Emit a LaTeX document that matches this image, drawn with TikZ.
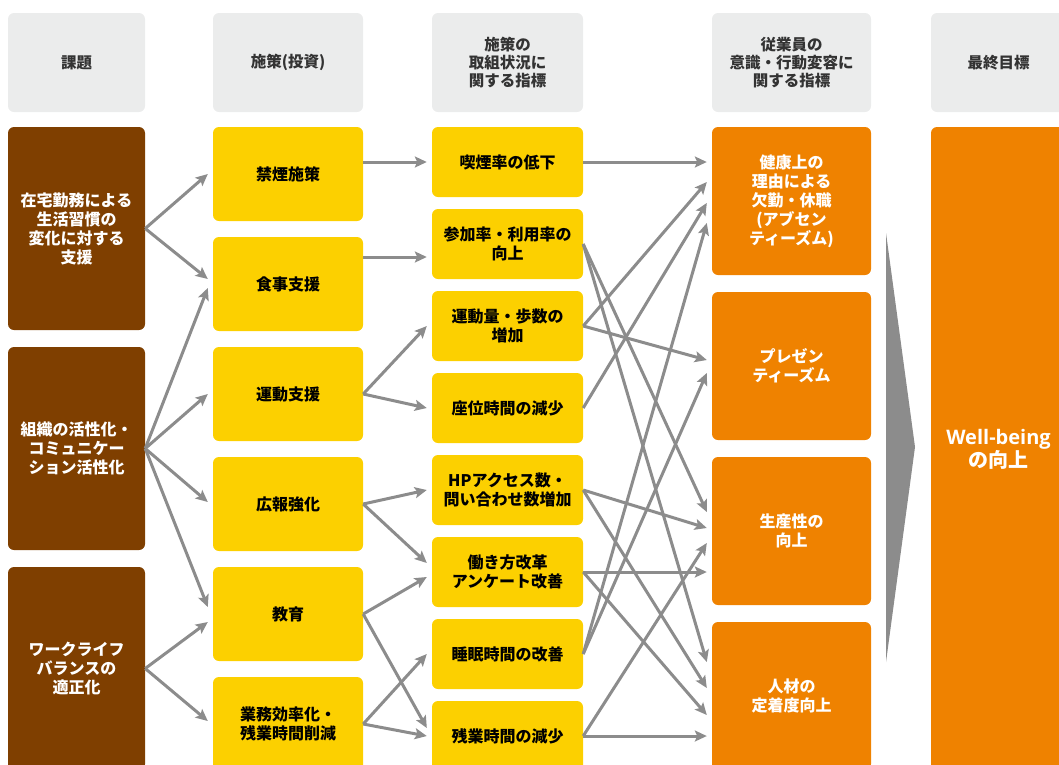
\documentclass[tikz,border=0pt]{standalone}
\usepackage{fontspec}
\setmainfont{Noto Sans CJK JP}
\newfontfamily\latinfont{Open Sans}
\usetikzlibrary{arrows.meta}
\definecolor{hdr}{HTML}{EBECEC}
\definecolor{brn}{HTML}{7F3F00}
\definecolor{ylw}{HTML}{FCD000}
\definecolor{org}{HTML}{EF8200}
\definecolor{arrg}{HTML}{8C8C8C}
\definecolor{hdrtext}{HTML}{333333}
\begin{document}
\begin{tikzpicture}[x=1pt,y=-1pt,
  box/.style={rounded corners=6pt, inner sep=0pt, align=center, font=\fontsize{16}{19}\selectfont\bfseries},
  hbox/.style={box, fill=hdr, text=hdrtext, minimum height=99pt, font=\fontsize{15.5}{18}\selectfont\bfseries},
  abox/.style={box, fill=brn, text=white, minimum width=137pt, minimum height=203pt},
  bbox/.style={box, fill=ylw, text=black, minimum width=150pt, minimum height=94pt},
  cbox/.style={box, fill=ylw, text=black, minimum width=151pt, minimum height=70pt},
  dbox/.style={box, fill=org, text=white, minimum width=159pt, minimum height=148pt},
  ebox/.style={box, fill=org, minimum width=135pt, minimum height=700pt},
  arr/.style={draw=arrg, line width=3pt, -{Stealth[length=12pt,width=11pt,inset=2.5pt]}},
]
\useasboundingbox (0,0) rectangle (1059,764);
\clip (0,0) rectangle (1059,764);

% headers
\node[hbox, minimum width=137pt] (H1) at (76.5,62.5) {課題};
\node[hbox, minimum width=150pt] (H2) at (288,62.5) {施策(投資)};
\node[hbox, minimum width=151pt] (H3) at (507.5,62.5) {施策の\\取組状況に\\関する指標};
\node[hbox, minimum width=159pt] (H4) at (791.5,62.5) {従業員の\\意識・行動変容に\\関する指標};
\node[hbox, minimum width=135pt] (H5) at (998.5,62.5) {最終目標};

% column 1
\node[abox] (A1) at (76.5,228.5) {在宅勤務による\\生活習慣の\\変化に対する\\支援};
\node[abox] (A2) at (76.5,448.5) {組織の活性化・\\コミュニケー\\ション活性化};
\node[abox] (A3) at (76.5,668.5) {ワークライフ\\バランスの\\適正化};

% column 2
\node[bbox] (B1) at (288,174) {禁煙施策};
\node[bbox] (B2) at (288,284) {食事支援};
\node[bbox] (B3) at (288,394) {運動支援};
\node[bbox] (B4) at (288,504) {広報強化};
\node[bbox] (B5) at (288,614) {教育};
\node[bbox] (B6) at (288,724) {業務効率化・\\残業時間削減};

% column 3
\node[cbox] (C1) at (507.5,162) {喫煙率の低下};
\node[cbox] (C2) at (507.5,244) {参加率・利用率の\\向上};
\node[cbox] (C3) at (507.5,326) {運動量・歩数の\\増加};
\node[cbox] (C4) at (507.5,408) {座位時間の減少};
\node[cbox] (C5) at (507.5,490) {HPアクセス数・\\問い合わせ数増加};
\node[cbox] (C6) at (507.5,572) {働き方改革\\アンケート改善};
\node[cbox] (C7) at (507.5,654) {睡眠時間の改善};
\node[cbox] (C8) at (507.5,736) {残業時間の減少};

% column 4
\node[dbox] (D1) at (791.5,201) {健康上の\\理由による\\欠勤・休職\\(アブセン\\ティーズム)};
\node[dbox] (D2) at (791.5,366) {プレゼン\\ティーズム};
\node[dbox] (D3) at (791.5,531) {生産性の\\向上};
\node[dbox] (D4) at (791.5,696) {人材の\\定着度向上};

% column 5
\node[ebox] (E) at (998.5,477) {};
\node[align=center, text=white, inner sep=0pt, font=\bfseries] (Et) at (998.5,449)
  {{\latinfont\fontsize{20}{24}\selectfont Well-being}\\{\fontsize{20}{24}\selectfont の向上}};

% big arrow shape
\fill[arrg] (886,233) -- (915,447) -- (886,662) -- cycle;

% column 1 -> column 2
\draw[arr] (A1.east) -- ([xshift=-5pt]B1.west);
\draw[arr] (A1.east) -- ([xshift=-5pt,yshift=5pt]B2.west);
\draw[arr] (A2.east) -- ([xshift=-5pt,yshift=-4pt]B2.west);
\draw[arr] (A2.east) -- ([xshift=-5pt]B3.west);
\draw[arr] (A2.east) -- ([xshift=-5pt,yshift=2pt]B4.west);
\draw[arr] (A2.east) -- ([xshift=-5pt,yshift=7pt]B5.west);
\draw[arr] (A3.east) -- ([xshift=-5pt,yshift=-8pt]B5.west);
\draw[arr] (A3.east) -- ([xshift=-5pt,yshift=3pt]B6.west);

% column 2 -> column 3
\draw[arr] ([yshift=12pt]B1.east) -- ([xshift=-5pt]C1.west);
\draw[arr] ([yshift=27pt]B2.east) -- ([xshift=-5pt,yshift=-13pt]C2.west);
\draw[arr] (B3.east) -- ([xshift=-5pt]C3.west);
\draw[arr] (B3.east) -- ([xshift=-5pt]C4.west);
\draw[arr] (B4.east) -- ([xshift=-5pt]C5.west);
\draw[arr] (B4.east) -- ([xshift=-5pt,yshift=9pt]C6.west);
\draw[arr] (B5.east) -- ([xshift=-5pt,yshift=-5pt]C6.west);
\draw[arr] (B5.east) -- ([xshift=-5pt,yshift=8pt]C8.west);
\draw[arr] (B6.east) -- ([xshift=-5pt]C7.west);
\draw[arr] (B6.east) -- ([xshift=-5pt]C8.west);

% column 3 -> column 4
\draw[arr] (C1.east) -- ([xshift=-5pt,yshift=39pt]D1.west);
\draw[arr] (C3.east) -- ([xshift=-5pt,yshift=19pt]D1.west);
\draw[arr] (C4.east) -- ([xshift=-5pt,yshift=-2pt]D1.west);
\draw[arr] (C7.east) -- ([xshift=-5pt,yshift=-22pt]D1.west);
\draw[arr] (C3.east) -- ([xshift=-5pt,yshift=6pt]D2.west);
\draw[arr] (C7.east) -- ([xshift=-5pt,yshift=-7pt]D2.west);
\draw[arr] (C2.east) -- ([xshift=-5pt,yshift=19pt]D3.west);
\draw[arr] (C5.east) -- ([xshift=-5pt,yshift=3pt]D3.west);
\draw[arr] (C8.east) -- ([xshift=-5pt,yshift=-12pt]D3.west);
\draw[arr] (C6.east) -- ([xshift=-5pt,yshift=-41pt]D3.west);
\draw[arr] (C2.east) -- ([xshift=-5pt,yshift=34pt]D4.west);
\draw[arr] (C5.east) -- ([xshift=-5pt,yshift=8pt]D4.west);
\draw[arr] (C6.east) -- ([xshift=-5pt,yshift=-19pt]D4.west);
\draw[arr] (C8.east) -- ([xshift=-5pt,yshift=-40pt]D4.west);
\end{tikzpicture}
\end{document}
